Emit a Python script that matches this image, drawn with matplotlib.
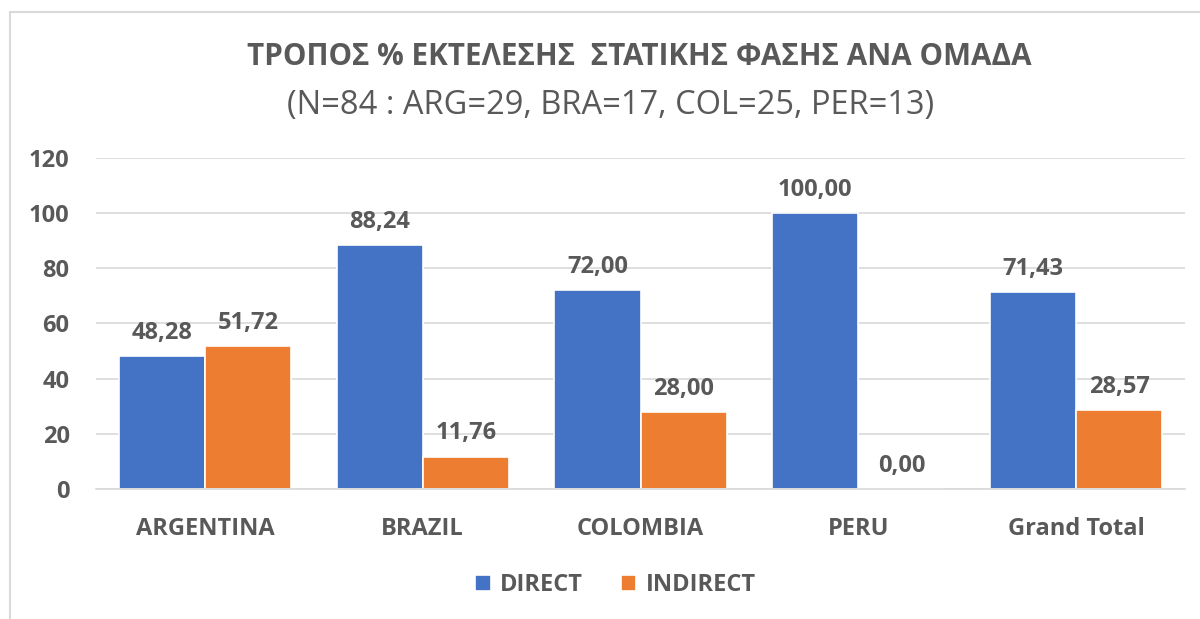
import matplotlib
matplotlib.use('Agg')
import matplotlib.pyplot as plt
import numpy as np
from matplotlib.patches import Rectangle

categories = ['ARGENTINA', 'BRAZIL', 'COLOMBIA', 'PERU', 'Grand Total']
direct = [48.28, 88.24, 72.00, 100.00, 71.43]
indirect = [51.72, 11.76, 28.00, 0.00, 28.57]
series_names = ['DIRECT', 'INDIRECT']
yticks = [0, 20, 40, 60, 80, 100, 120]

title = 'ΤΡΟΠΟΣ % ΕΚΤΕΛΕΣΗΣ  ΣΤΑΤΙΚΗΣ ΦΑΣΗΣ ΑΝΑ ΟΜΑΔΑ'
subtitle = '(N=84 : ARG=29, BRA=17, COL=25, PER=13)'

plt.rcParams['font.family'] = ['Open Sans', 'DejaVu Sans']
txt = '#595959'
blue = '#4472C4'
orange = '#ED7D31'
fs = 17

fig = plt.figure(figsize=(12, 6.19), dpi=100)
ax = fig.add_axes([0.08, 0.21, 0.9075, 0.535])

# chart frame (cut off on right and bottom like the screenshot)
fig.patches.append(Rectangle((10 / 1200, -0.1), 1.2, 1 - 12 / 619 + 0.1,
                             transform=fig.transFigure, fill=False,
                             edgecolor='#d9d9d9', linewidth=1.5))

x = np.arange(len(categories))
w = 0.395
b1 = ax.bar(x - w / 2, direct, w, color=blue, edgecolor='white', linewidth=1.2, label=series_names[0])
b2 = ax.bar(x + w / 2, indirect, w, color=orange, edgecolor='white', linewidth=1.2, label=series_names[1])

for bars in (b1, b2):
    for r in bars:
        v = r.get_height()
        ax.annotate(f'{v:.2f}'.replace('.', ','), (r.get_x() + r.get_width() / 2, v),
                    xytext=(0, 8), textcoords='offset points', ha='center', va='bottom',
                    fontsize=fs, fontweight='bold', color=txt)

ax.set_xlim(-0.5, len(categories) - 0.5)
ax.set_ylim(0, 120)
ax.set_yticks(yticks)
ax.set_xticks(x)
ax.set_xticklabels(categories)
ax.grid(axis='y', color='#d9d9d9', linewidth=1.2)
ax.set_axisbelow(True)
for s in ['top', 'right', 'left']:
    ax.spines[s].set_visible(False)
ax.spines['bottom'].set_color('#d9d9d9')
ax.spines['bottom'].set_linewidth(1.2)
ax.tick_params(axis='both', length=0, labelsize=fs, labelcolor=txt)
ax.tick_params(axis='y', pad=19)
ax.tick_params(axis='x', pad=20)
for lab in ax.get_xticklabels() + ax.get_yticklabels():
    lab.set_fontweight('bold')

fig.text(0.533, 0.908, title, ha='center', va='center', fontsize=21.3,
         fontweight='bold', color=txt)
fig.text(0.509, 0.83, subtitle, ha='center', va='center', fontsize=23.5, color=txt)

leg = fig.legend(handles=[b1, b2], loc='center', bbox_to_anchor=(0.513, 0.055), ncol=2,
                 frameon=False, handlelength=0.65, handleheight=0.65, columnspacing=1.6,
                 handletextpad=0.4, prop={'size': fs, 'weight': 'bold'})
for t in leg.get_texts():
    t.set_color(txt)

plt.savefig('out.png', dpi=100)
plt.close()
